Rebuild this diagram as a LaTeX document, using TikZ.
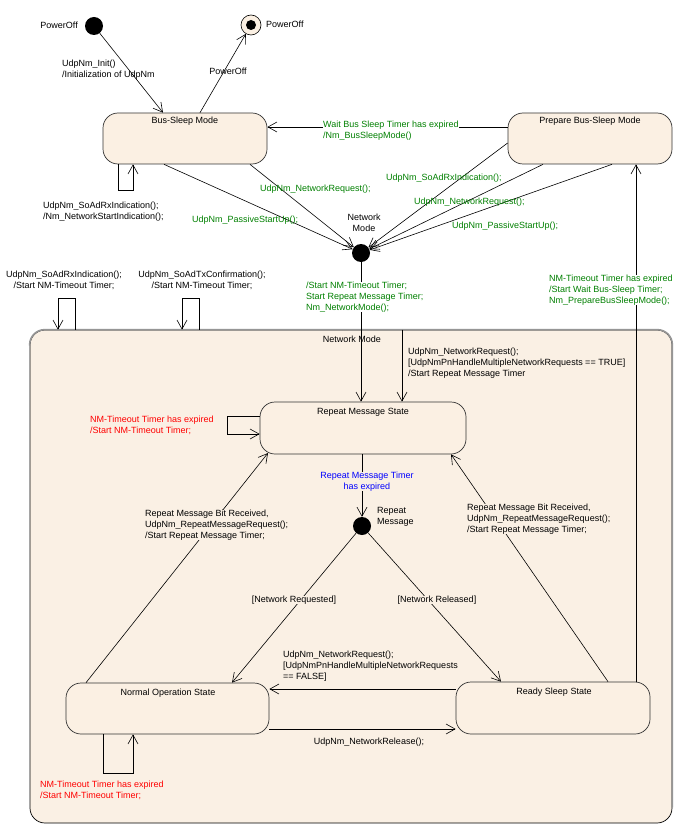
\documentclass[tikz,border=0pt]{standalone}
\usepackage{fontspec}
\setmainfont{Liberation Sans}
\usetikzlibrary{arrows.meta,calc}
\definecolor{stfill}{RGB}{251,240,227}
\definecolor{nmfill}{RGB}{250,240,228}
\definecolor{tgreen}{RGB}{0,128,0}
\definecolor{tred}{RGB}{255,0,0}
\definecolor{tblue}{RGB}{0,0,255}
\definecolor{nmgray}{RGB}{150,150,150}
\begin{document}
\begin{tikzpicture}[x=1pt,y=-1pt,
  every node/.style={font=\fontsize{9}{11}\selectfont, inner sep=0pt},
  stbox/.style={draw=black!80, fill=stfill, rounded corners=15pt, line width=0.7pt},
  nmbox/.style={draw=black, fill=nmfill, rounded corners=15pt, line width=0.7pt},
  lab/.style={align=left, anchor=north west},
  clab/.style={align=center, anchor=north},
  arr/.style={-{Straight Barb[length=9pt,width=10pt]}, line width=0.6pt},
  blackdot/.style={circle, fill=black, minimum size=18pt}]
\useasboundingbox (0,0) rectangle (700,837);
\fill[white] (0,0) rectangle (700,837);

% composite state
\node[nmbox, minimum width=642pt, minimum height=493pt] (nm) at (351,576.5) {};
\draw[nmgray, line width=1.6pt, rounded corners=15pt]
  ($(nm.north west)+(0,16)$) -- (nm.north west) -- (nm.north east) -- ($(nm.south east)+(0,-16)$);
\node (nmT) at (352,339) {Network Mode};

% states
\node[stbox, minimum width=164pt, minimum height=51pt] (bs) at (185,138.5) {};
\node (bsT) at (185,121) {Bus-Sleep Mode};
\node[stbox, minimum width=164pt, minimum height=51pt] (pbs) at (590,138.5) {};
\node (pbsT) at (590,121) {Prepare Bus-Sleep Mode};
\node[stbox, minimum width=206pt, minimum height=52pt] (rms) at (363,428) {};
\node (rmsT) at (363,412) {Repeat Message State};
\node[stbox, minimum width=203pt, minimum height=51pt] (nos) at (167.5,708.5) {};
\node (nosT) at (168,693) {Normal Operation State};
\node[stbox, minimum width=194pt, minimum height=52pt] (rss) at (553,708) {};
\node (rssT) at (554,692) {Ready Sleep State};

% pseudo states
\node[blackdot] (init) at (94,26) {};
\node[circle, draw=black, fill=stfill, line width=0.6pt, minimum size=20pt] (fin) at (251,25) {};
\node[blackdot, minimum size=10pt] (finI) at (fin) {};
\node[blackdot] (jn) at (361,253) {};
\node[blackdot] (rm) at (362,526) {};

% top part
\node[anchor=east] (l1) at (78,25) {PowerOff};
\node[anchor=west] (l2) at (266,24) {PowerOff};
\draw[arr] (init) -- (163,0 |- bs.north);
\node[lab] (l3) at (62,59.5) {UdpNm\_Init()\\/Initialization of UdpNm};
\draw[arr] (200,0 |- bs.north) -- (fin);
\node (l4) at (228,71) {PowerOff};
\draw[arr] (pbs.west |- 0,127) -- (bs.east |- 0,127);
\node[lab, text=tgreen, fill=white] (l5) at (323,120.5) {Wait Bus Sleep Timer has expired\\/Nm\_BusSleepMode()};
\draw[arr] (118,0 |- bs.south) -- (118,190) -- (133,190) -- (133,0 |- bs.south);
\node[lab] (l6) at (43,202) {UdpNm\_SoAdRxIndication();\\/Nm\_NetworkStartIndication();};

% into network mode junction
\draw[arr] (164,0 |- bs.south) -- (jn);
\draw[arr] (250,0 |- bs.south) -- (jn);
\draw[arr] (pbs.west |- 0,143) -- (jn);
\draw[arr] (543,0 |- pbs.south) -- (jn);
\draw[arr] (612,0 |- pbs.south) -- (jn);
\node[lab, text=tgreen] (l7) at (192,215.5) {UdpNm\_PassiveStartUp();};
\node[lab, text=tgreen] (l8) at (260,184.5) {UdpNm\_NetworkRequest();};
\node[lab, text=tgreen] (l9) at (386,173.5) {UdpNm\_SoAdRxIndication();};
\node[lab, text=tgreen] (l10) at (414,197.5) {UdpNm\_NetworkRequest();};
\node[lab, text=tgreen] (l11) at (452,221.5) {UdpNm\_PassiveStartUp();};
\node[clab] (l12) at (364,213.5) {Network\\Mode};

% junction to repeat message
\draw[arr] (jn) -- (jn |- rms.north);
\node[lab, text=tgreen, fill=white] (l13) at (306,281.5) {/Start NM-Timeout Timer;\\Start Repeat Message Timer;\\Nm\_NetworkMode();};
\draw[arr] (402,0 |- nm.north) -- (402,0 |- rms.north);
\node[lab] (l17) at (408,347.5) {UdpNm\_NetworkRequest();\\{[}UdpNmPnHandleMultipleNetworkRequests == TRUE{]}\\/Start Repeat Message Timer};

% loops on network mode
\draw[arr] (75,0 |- nm.north) -- (75,298) -- (58,298) -- (58,0 |- nm.north);
\draw[arr] (199,0 |- nm.north) -- (199,298) -- (182,298) -- (182,0 |- nm.north);
\node[clab] (l14) at (64,270.5) {UdpNm\_SoAdRxIndication();\\/Start NM-Timeout Timer;};
\node[clab] (l15) at (202,270.5) {UdpNm\_SoAdTxConfirmation();\\/Start NM-Timeout Timer;};

% ready sleep to prepare bus sleep
\draw[arr] (636,0 |- rss.north) -- (636,0 |- pbs.south);
\node[lab, text=tgreen, fill=white] (l16) at (549,274.5) {NM-Timeout Timer has expired\\/Start Wait Bus-Sleep Timer;\\Nm\_PrepareBusSleepMode();};

% repeat message state
\draw[arr] (rms.west |- 0,416) -- (227,416) -- (227,434) -- (rms.west |- 0,434);
\node[lab, text=tred] (l19) at (90,415.5) {NM-Timeout Timer has expired\\/Start NM-Timeout Timer;};
\draw[arr] (rm |- rms.south) -- (rm);
\node[clab, text=tblue, fill=nmfill] (l20) at (367,471.5) {Repeat Message Timer\\has expired};
\node[lab] (l21) at (377,507.5) {Repeat\\Message};

\draw[arr] (rm) -- (232,0 |- nos.north);
\draw[arr] (rm) -- (501,0 |- rss.north);
\node[fill=nmfill] (l24) at (294,600) {[Network Requested]};
\node[fill=nmfill] (l25) at (437,600) {[Network Released]};

\draw[arr] (86,0 |- nos.north) -- (268,453);
\draw[arr] (608,0 |- rss.north) -- (451,0 |- rms.south);
\node[lab, fill=nmfill] (l22) at (145,509.5) {Repeat Message Bit Received,\\UdpNm\_RepeatMessageRequest();\\/Start Repeat Message Timer;};
\node[lab, fill=nmfill] (l23) at (467,503.5) {Repeat Message Bit Received,\\UdpNm\_RepeatMessageRequest();\\/Start Repeat Message Timer;};

% bottom transitions
\draw[arr] (rss.west |- 0,689) -- (nos.east |- 0,689);
\node[lab] (l26) at (283,650.5) {UdpNm\_NetworkRequest();\\{[}UdpNmPnHandleMultipleNetworkRequests\\== FALSE{]}};
\draw[arr] (nos.east |- 0,729) -- (rss.west |- 0,729);
\node (l28) at (369,742) {UdpNm\_NetworkRelease();};
\draw[arr] (103,0 |- nos.south) -- (103,773) -- (133,773) -- (133,0 |- nos.south);
\node[lab, text=tred] (l29) at (40,780.5) {NM-Timeout Timer has expired\\/Start NM-Timeout Timer;};
\end{tikzpicture}
\end{document}
